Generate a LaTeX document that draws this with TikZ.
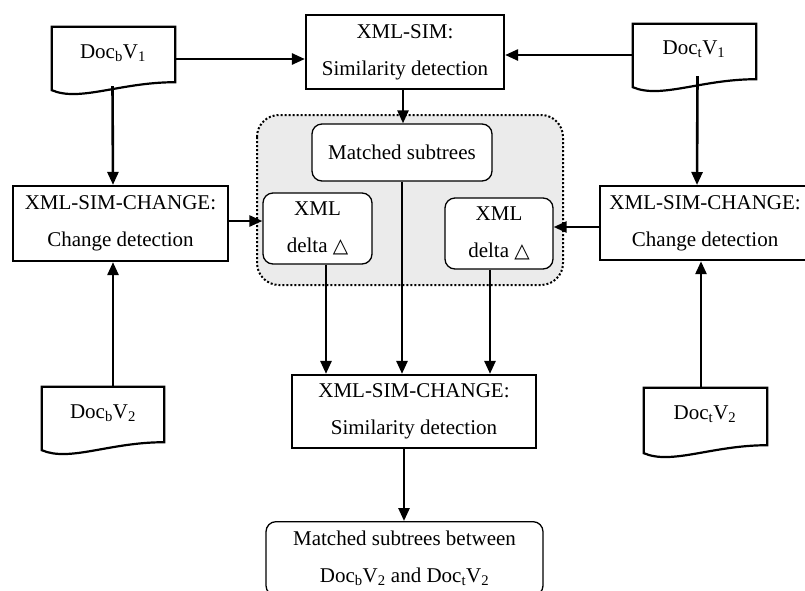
\documentclass[tikz,border=0pt]{standalone}
\usepackage{fontspec}
\setmainfont{Liberation Serif}
\newfontfamily\symfont{DejaVu Sans}
\usetikzlibrary{calc,arrows.meta}
\tikzset{
  txt/.style={font=\fontsize{21}{37}\selectfont, align=center, inner sep=0pt},
  sqbox/.style={txt, draw, line width=2.2pt, inner sep=0pt},
  rbox/.style={txt, draw, line width=1.3pt, rounded corners=10pt, fill=white},
  docnode/.style={txt, inner sep=0pt},
  docline/.style={draw, line width=2.2pt, fill=white},
  arr/.style={line width=2.6pt, -{Triangle[length=13pt,width=11pt]}},
  region/.style={draw, dotted, line width=2pt, fill=gray!16, rounded corners=22pt}
}
\newcommand\Tri{{\symfont\fontsize{20}{20}\selectfont △}}
\newcommand\docshape[1]{%
  \path[docline] ($(#1.south east)$) .. controls +(-55,0) and +(28,12) .. ($(#1.south west)+(0,8)$)
     -- (#1.north west) -- (#1.north east) -- cycle;}
\begin{document}
\begin{tikzpicture}[x=1pt,y=-1pt]
\useasboundingbox (0,0) rectangle (805,590);

% dotted region
\path[region] (257,115) rectangle (563,285);

% document nodes (boxes without wave, then shapes)
\node[docnode, minimum width=123pt, minimum height=55pt] (dbv1) at (113.5,54.5) {};
\node[docnode, minimum width=123pt, minimum height=55pt] (dtv1) at (694.5,51.5) {};
\node[docnode, minimum width=122pt, minimum height=55pt] (dbv2) at (103,414.5) {};
\node[docnode, minimum width=123pt, minimum height=57pt] (dtv2) at (705.5,416.5) {};
\docshape{dbv1}
\docshape{dtv1}
\docshape{dbv2}
\docshape{dtv2}
\node[txt] at (113,53) {Doc\textsubscript{b}V\textsubscript{1}};
\node[txt] at (694,49) {Doc\textsubscript{t}V\textsubscript{1}};
\node[txt] at (103,413) {Doc\textsubscript{b}V\textsubscript{2}};
\node[txt] at (705,414) {Doc\textsubscript{t}V\textsubscript{2}};

% main boxes
\node[sqbox, minimum width=198pt, minimum height=74pt] (sim) at (405,52)
  {XML-SIM:\\Similarity detection};
\node[sqbox, minimum width=215pt, minimum height=75pt] (chl) at (120.5,223.5)
  {XML-SIM-CHANGE:\\Change detection};
\node[sqbox, minimum width=210pt, minimum height=74pt, anchor=north west] (chr) at (599,185)
  {XML-SIM-CHANGE:\\Change detection};
\node[sqbox, minimum width=244pt, minimum height=73pt] (simc) at (414,411.5)
  {XML-SIM-CHANGE:\\Similarity detection};

% rounded boxes
\node[rbox, minimum width=180pt, minimum height=57pt] (mst) at (402,152.5) {Matched subtrees};
\node[rbox, minimum width=109pt, minimum height=71pt] (dl) at (317.5,228.5) {XML\\delta \Tri};
\node[rbox, minimum width=108pt, minimum height=71pt] (dr) at (499,233.5) {XML\\delta \Tri};
\node[rbox, minimum width=277pt, minimum height=74pt, anchor=north] (fin) at (404.5,521)
  {Matched subtrees between\\Doc\textsubscript{b}V\textsubscript{2} and Doc\textsubscript{t}V\textsubscript{2}};

% connectors
\draw[arr] (dbv1.east |- 0,59) -- (sim.west |- 0,59);
\draw[arr] (dtv1.west |- 0,55) -- (sim.east |- 0,55);
\draw[arr] ($(dbv1.south)+(-1,4)$) -- (chl.north -| 113,0);
\draw[arr] ($(dtv1.south)+(3,-3)$) -- (chr.north -| 697,0);
\draw[arr] (dbv2.north -| 113,0) -- (chl.south -| 113,0);
\draw[arr] (dtv2.north -| 701,0) -- (chr.south -| 701,0);
\draw[arr] (chl.east |- 0,221) -- (dl.west |- 0,221);
\draw[arr] (chr.west |- 0,227) -- (dr.east |- 0,227);
\draw[arr] (sim.south -| 403,0) -- (mst.north -| 403,0);
\draw[arr] (dl.south -| 326,0) -- (simc.north -| 326,0);
\draw[arr] (mst.south -| 402,0) -- (simc.north -| 402,0);
\draw[arr] (dr.south -| 490,0) -- (simc.north -| 490,0);
\draw[arr] (simc.south -| 404,0) -- (fin.north -| 404,0);
\end{tikzpicture}
\end{document}
